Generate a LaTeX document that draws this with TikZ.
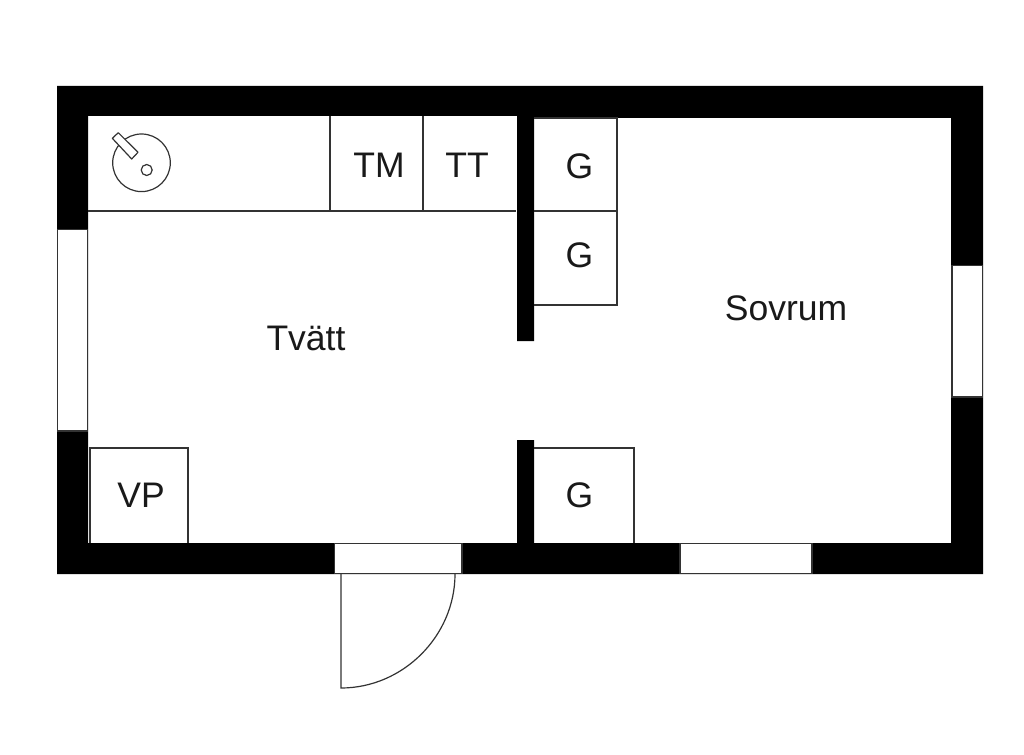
\documentclass[tikz,border=0pt]{standalone}
\usepackage{fontspec}
\setmainfont{Liberation Sans}
\tikzset{
  wall/.style={fill=black,draw=none},
  opening/.style={fill=white,draw=black!80,line width=1.2pt},
  thin line/.style={draw=black!80,line width=1.2pt},
  label text/.style={font=\fontsize{35.5}{40}\selectfont,inner sep=0pt,text=black!90}
}
\begin{document}
\begin{tikzpicture}[x=1pt,y=-1pt]
\useasboundingbox[fill=white] (0,0) rectangle (1024,754);
% outer walls (outline with rooms cut out)
\fill[wall,even odd rule] (57,86) rectangle (983,574)
  (88,116) -- (517,116) -- (517,341) -- (534,341) -- (534,118) -- (951,118) -- (951,543)
  -- (534,543) -- (534,440) -- (517,440) -- (517,543) -- (88,543) -- cycle;
% fixtures
\draw[thin line] (88,211) -- (516,211);
\draw[thin line] (330,116) -- (330,211);
\draw[thin line] (423,116) -- (423,211);
\draw[thin line] (534,118) -- (617,118) -- (617,211) -- (534,211);
\draw[thin line] (534,211) -- (617,211) -- (617,305) -- (534,305);
\draw[thin line] (534,448) -- (634,448) -- (634,543);
\draw[thin line] (90,543) -- (90,448) -- (188,448) -- (188,543);
% sink
\draw[thin line] (141.5,162.8) circle[radius=28.8];
\draw[thin line] (146.7,170) circle[radius=5.5];
\draw[thin line,fill=white,line join=round] (118.3,132.7) -- (112.3,138.3) -- (131.7,159) -- (138,152.3) -- cycle;
% windows and door opening
\draw[opening] (57.5,229.5) rectangle (87.5,431);
\draw[opening] (952,265.5) rectangle (982.5,397);
\draw[opening] (680,543.5) rectangle (812,573.5);
\draw[opening] (334.5,543.5) rectangle (462,573.5);
% door leaf
\draw[thin line] (341,574) -- (341,688) .. controls (403,688) and (455,636) .. (455,574);
% labels
\node[label text] (tm) at (379,165) {TM};
\node[label text] (tt) at (467,165) {TT};
\node[label text] (g1) at (579.5,166) {G};
\node[label text] (g2) at (579.5,255) {G};
\node[label text] (g3) at (579.5,495) {G};
\node[label text] (vp) at (141,495) {VP};
\node[label text] (tvatt) at (306,338) {Tvätt};
\node[label text] (sovrum) at (786,308) {Sovrum};
\end{tikzpicture}
\end{document}
